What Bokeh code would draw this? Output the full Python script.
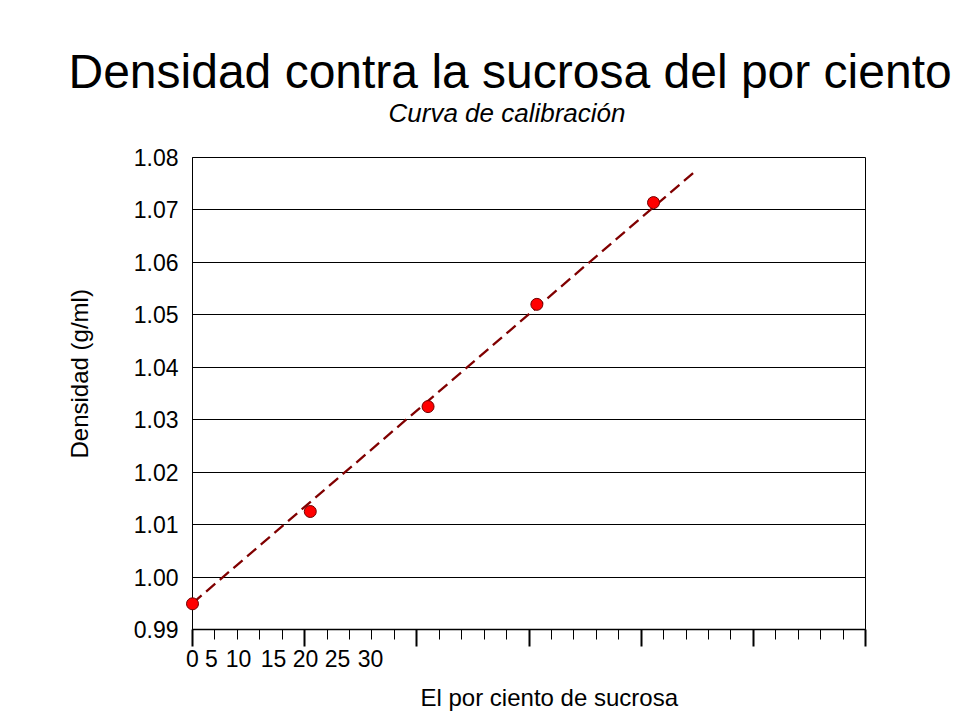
from bokeh.plotting import figure
from bokeh.models import (Range1d, LinearAxis, FixedTicker, SingleIntervalTicker,
                          PrintfTickFormatter, Title)
from bokeh.embed import file_html
from bokeh.resources import INLINE

# sucrose percentage vs measured density
sucrose_pct = [0, 5.25, 10.5, 15.35, 20.55]
density = [0.9949, 1.0125, 1.0325, 1.0520, 1.0714]

# trend line (runs a bit past the last point)
trend_x = [0, 22.5]
trend_y = [0.9950, 1.0777]

y_ticks = [0.99, 1.00, 1.01, 1.02, 1.03, 1.04, 1.05, 1.06, 1.07, 1.08]
x_tick_labels = ["0", "5", "10", "15", "20", "25", "30"]

FONT = "Liberation Sans"

# the x labels sit bunched up at the left, not under their ticks
label_px = [0, 19, 46, 81, 113, 145, 178]

FRAME_W, FRAME_H = 673, 472

p = figure(frame_width=FRAME_W, frame_height=FRAME_H,
           x_range=Range1d(0, 30), y_range=Range1d(0.99, 1.08),
           output_backend="svg", toolbar_location=None,
           min_border_left=192, min_border_right=87,
           min_border_top=157, min_border_bottom=60)
p.outline_line_color = "black"
p.outline_line_width = 1
p.background_fill_color = "white"
p.border_fill_color = "white"

# x axis: tick marks only, its own labels are not drawn
xa = p.xaxis[0]
xa.ticker = SingleIntervalTicker(interval=5, num_minor_ticks=5)
xa.axis_line_color = "black"
xa.axis_line_width = 1.5
xa.major_tick_line_color = "black"
xa.major_tick_line_width = 2
xa.major_tick_in = 0
xa.major_tick_out = 17
xa.minor_tick_line_color = "black"
xa.minor_tick_in = 0
xa.minor_tick_out = 10
xa.major_label_text_font_size = "1px"
xa.major_label_text_color = None
xa.major_label_standoff = 0

# second axis just for the bunched tick labels
p.extra_x_ranges = {"lbl": Range1d(0, FRAME_W)}
lbl_axis = LinearAxis(x_range_name="lbl", ticker=FixedTicker(ticks=label_px),
                      major_label_overrides={px: t for px, t in zip(label_px, x_tick_labels)},
                      axis_line_color=None, major_tick_line_color=None,
                      minor_tick_line_color=None, major_tick_in=0, major_tick_out=0,
                      minor_tick_in=0, minor_tick_out=0, major_label_standoff=3,
                      major_label_text_font=FONT, major_label_text_font_size="23px",
                      major_label_text_color="black")
p.add_layout(lbl_axis, "below")

ya = p.yaxis[0]
ya.ticker = FixedTicker(ticks=y_ticks)
ya.formatter = PrintfTickFormatter(format="%.2f")
ya.axis_line_color = "black"
ya.major_tick_line_color = None
ya.minor_tick_line_color = None
ya.major_tick_in = 0
ya.major_tick_out = 0
ya.minor_tick_in = 0
ya.minor_tick_out = 0
ya.major_label_standoff = 14
ya.major_label_text_font = FONT
ya.major_label_text_font_size = "23px"
ya.major_label_text_color = "black"

p.xgrid.visible = False
p.ygrid.ticker = FixedTicker(ticks=y_ticks)
p.ygrid.grid_line_color = "black"
p.ygrid.grid_line_width = 1

p.line(trend_x, trend_y, line_color="#800000", line_width=2.3, line_dash="12 6")
# overlay level so the first point is not cut off at the axis
p.scatter(sucrose_pct, density, size=12, fill_color="#ff0000",
          line_color="#700000", line_width=1, level="overlay")

# titles (subtitle first so it sits closest to the plot)
p.add_layout(Title(text="Curva de calibración", text_font=FONT, text_font_size="26px",
                   text_font_style="italic", text_color="black", align="left",
                   offset=196, standoff=60), "above")
p.add_layout(Title(text="Densidad contra la sucrosa del por ciento", text_font=FONT,
                   text_font_size="48px", text_font_style="normal", text_color="black",
                   align="left", offset=-124, standoff=-64), "above")
p.add_layout(Title(text="El por ciento de sucrosa", text_font=FONT, text_font_size="24px",
                   text_font_style="normal", text_color="black", align="left",
                   offset=228, standoff=24), "below")
p.add_layout(Title(text="Densidad (g/ml)", text_font=FONT, text_font_size="24px",
                   text_font_style="normal", text_color="black", align="left",
                   offset=171, standoff=76), "left")

open("out.html", "w").write(file_html(p, INLINE))
